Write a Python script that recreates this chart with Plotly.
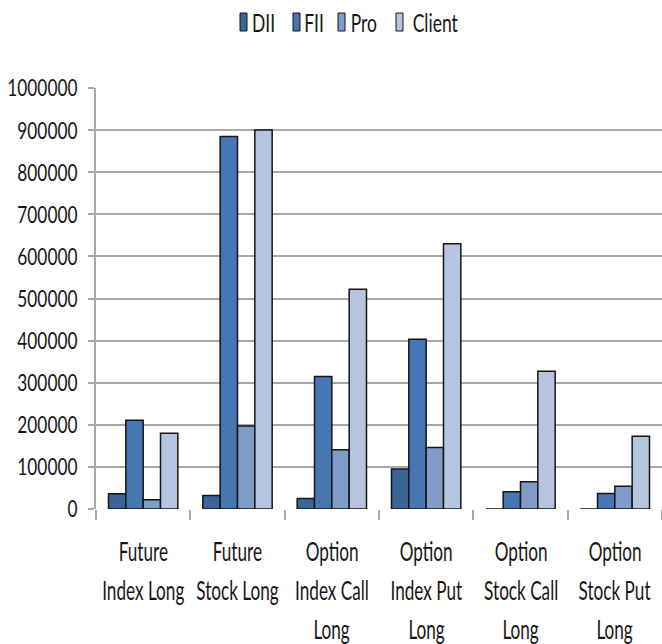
import plotly.graph_objects as go

# Category labels, one entry per line of each wrapped label
categories = [
    "Future Index Long",
    "Future Stock Long",
    "Option Index Call Long",
    "Option Index Put Long",
    "Option Stock Call Long",
    "Option Stock Put Long",
]
category_lines = [
    ["Future", "Index Long"],
    ["Future", "Stock Long"],
    ["Option", "Index Call", "Long"],
    ["Option", "Index Put", "Long"],
    ["Option", "Stock Call", "Long"],
    ["Option", "Stock Put", "Long"],
]

# Long positions by participant
dii = [36000, 32000, 25000, 95000, 0, 0]
fii = [211000, 885000, 315000, 403000, 41000, 37000]
pro = [22000, 197000, 141000, 146000, 65000, 54000]
client = [180000, 900000, 522000, 630000, 327000, 173000]

series_names = ["DII", "FII", "Pro", "Client"]
series_values = [dii, fii, pro, client]
series_colors = ["#3c6597", "#4777b2", "#7f9cc9", "#b5c5e0"]

y_ticks = [0, 100000, 200000, 300000, 400000, 500000,
           600000, 700000, 800000, 900000, 1000000]

FONT = "Lato, Liberation Sans, sans-serif"
TEXT_COLOR = "#161616"
GRID = "#a9a9a9"
XLABEL_SIZE = 26
LEGEND_SIZE = 25
YLABEL_SIZE = 24

fig = go.Figure()
for name, vals, color in zip(series_names, series_values, series_colors):
    fig.add_trace(go.Bar(
        name=name,
        x=categories,
        y=vals,
        marker=dict(color=color, line=dict(color="#151515", width=1.5)),
        showlegend=False,
    ))

# Multi-line category labels under the axis
line_offsets = [-42, -81, -120]
annotations = []
for cat, lines in zip(categories, category_lines):
    for j, txt in enumerate(lines):
        annotations.append(dict(
            x=cat, xref="x", y=0, yref="paper",
            yshift=line_offsets[j], yanchor="middle", xanchor="center",
            text=txt, showarrow=False,
            font=dict(family=FONT, size=XLABEL_SIZE, color=TEXT_COLOR),
        ))

# Compact legend row at the top: swatch + name
plot_left, plot_width = 96, 566
plot_bottom, plot_height = 509, 421
legend_swatch_px = [240, 293, 338, 396]
legend_y_px = 22
legend_y = (plot_bottom - legend_y_px) / plot_height
shapes = []
for name, color, px in zip(series_names, series_colors, legend_swatch_px):
    xa = (px - plot_left) / plot_width
    shapes.append(dict(
        type="rect", xref="paper", yref="paper",
        xsizemode="pixel", ysizemode="pixel",
        xanchor=xa, yanchor=legend_y,
        x0=0, x1=7, y0=-9, y1=9,
        fillcolor=color, line=dict(color="#151515", width=1),
    ))
    annotations.append(dict(
        x=xa, xref="paper", y=legend_y, yref="paper",
        xshift=5, xanchor="left", yanchor="middle",
        text=name, showarrow=False,
        font=dict(family=FONT, size=LEGEND_SIZE, color=TEXT_COLOR),
    ))

fig.update_layout(
    width=662, height=644,
    margin=dict(l=96, r=0, t=88, b=135, autoexpand=False),
    paper_bgcolor="white", plot_bgcolor="white",
    barmode="group", bargap=0.265, bargroupgap=0,
    annotations=annotations, shapes=shapes,
    showlegend=False,
    font=dict(family=FONT, color=TEXT_COLOR),
)
fig.update_xaxes(
    type="category", range=[-0.5, 5.5], automargin=False,
    showticklabels=False,
    tickson="boundaries", ticks="outside", ticklen=10, tickwidth=1.5,
    tickcolor=GRID, showline=False, showgrid=False,
)
fig.update_yaxes(
    range=[0, 1000000], automargin=False, tickvals=y_ticks,
    ticktext=[str(v) for v in y_ticks],
    ticks="outside", ticklen=6, tickwidth=1.5, tickcolor=GRID,
    ticklabelstandoff=6,
    showgrid=True, gridcolor=GRID, gridwidth=2,
    showline=True, linecolor=GRID, linewidth=1.5,
    zeroline=False,
    tickfont=dict(family=FONT, size=YLABEL_SIZE, color=TEXT_COLOR),
)

# Condensed lettering: narrow each label horizontally around its anchor point
condense_js = """
var gd = document.getElementById('{plot_id}');
function narrow(t, s) {
  var cx = parseFloat(t.getAttribute('x')) || 0;
  var tr = t.getAttribute('transform') || '';
  t.setAttribute('transform', tr + ' translate(' + cx + ',0) scale(' + s + ',1) translate(' + (-cx) + ',0)');
}
gd.querySelectorAll('.ytick text').forEach(function(t) { narrow(t, 0.72); });
gd.querySelectorAll('.annotation-text').forEach(function(t) {
  var fs = parseFloat(t.style.fontSize);
  narrow(t, fs >= %d ? 0.66 : 0.70);
});
""" % XLABEL_SIZE

fig.write_html("out.html", post_script=condense_js)
